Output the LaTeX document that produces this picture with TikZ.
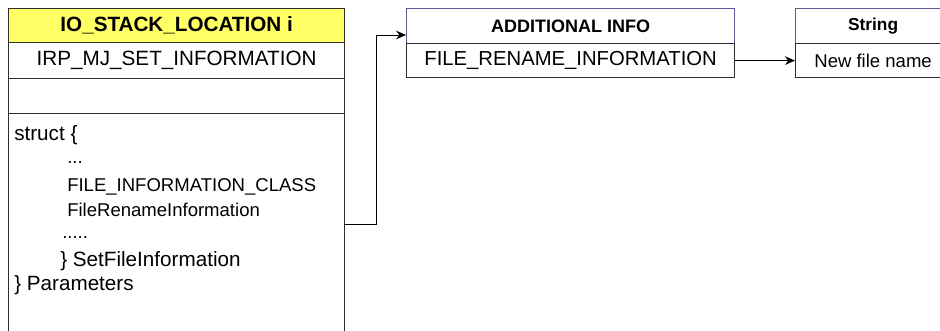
\documentclass[tikz,border=0pt]{standalone}
\usepackage{fontspec}
\setmainfont{Liberation Sans}
\usetikzlibrary{arrows.meta}
\definecolor{hdryellow}{RGB}{255,255,102}
\definecolor{boxline}{RGB}{45,45,45}
\definecolor{purpline}{RGB}{95,90,150}
\tikzset{
  cell/.style={draw=boxline, line width=0.9pt, rectangle, inner sep=0pt, anchor=north west, text=black},
  bighdr/.style={font=\fontsize{15.5pt}{18pt}\selectfont\bfseries},
  smallhdr/.style={font=\fontsize{13.5pt}{16pt}\selectfont\bfseries},
  bigtxt/.style={font=\fontsize{15.5pt}{18pt}\selectfont},
  midtxt/.style={font=\fontsize{13.9pt}{16pt}\selectfont},
  codeline/.style={anchor=base west, inner sep=0pt},
  arr/.style={draw=black, line width=0.7pt, -{Stealth[length=7.5pt,width=6.5pt]}},
}
\begin{document}
\begin{tikzpicture}[x=0.75pt,y=-0.75pt]
\useasboundingbox (0,0) rectangle (940,331);
\clip (0,0) rectangle (940,331);
% left structure
\node[cell, bighdr, fill=hdryellow, minimum width=252pt, minimum height=25.5pt] (ioh) at (8,8) {IO\_STACK\_LOCATION i};
\node[cell, bigtxt, minimum width=252pt, minimum height=27pt] (irp) at (8,42) {IRP\_MJ\_SET\_INFORMATION};
\node[cell, minimum width=252pt, minimum height=26.25pt] (empty) at (8,78) {};
\node[cell, minimum width=252pt, minimum height=190pt] (body) at (8,113) {};
\node[codeline, bigtxt] (l1) at (14,141) {struct \{};
\node[codeline, midtxt] (l2) at (67,164) {...};
\node[codeline, midtxt] (l3) at (67,192) {FILE\_INFORMATION\_CLASS};
\node[codeline, midtxt] (l4) at (67,217) {FileRenameInformation};
\node[codeline, midtxt] (l5) at (62,239) {.....};
\node[codeline, bigtxt] (l6) at (60,267) {\} SetFileInformation};
\node[codeline, bigtxt] (l7) at (14,291) {\} Parameters};
% additional info
\node[cell, smallhdr, draw=purpline, minimum width=246pt, minimum height=26.25pt] (addh) at (406,8) {ADDITIONAL INFO};
\node[cell, font=\fontsize{15.2pt}{18pt}\selectfont, minimum width=246pt, minimum height=25.5pt] (fri) at (406,43) {FILE\_RENAME\_INFORMATION};
% string
\node[cell, font=\fontsize{13pt}{16pt}\selectfont\bfseries, draw=purpline, minimum width=116.25pt, minimum height=26.25pt] (strh) at (795,8) {String};
\node[cell, midtxt, minimum width=116.25pt, minimum height=25.5pt] (strr) at (795,43) {New file name};
% connectors
\coordinate (p1) at (376,224);
\coordinate (p2) at (376,35);
\draw[arr] (body.east |- p1) -- (p1) -- (p2) -- (addh.west |- p2);
\draw[arr] (fri.east) -- (strr.west);
\end{tikzpicture}
\end{document}
